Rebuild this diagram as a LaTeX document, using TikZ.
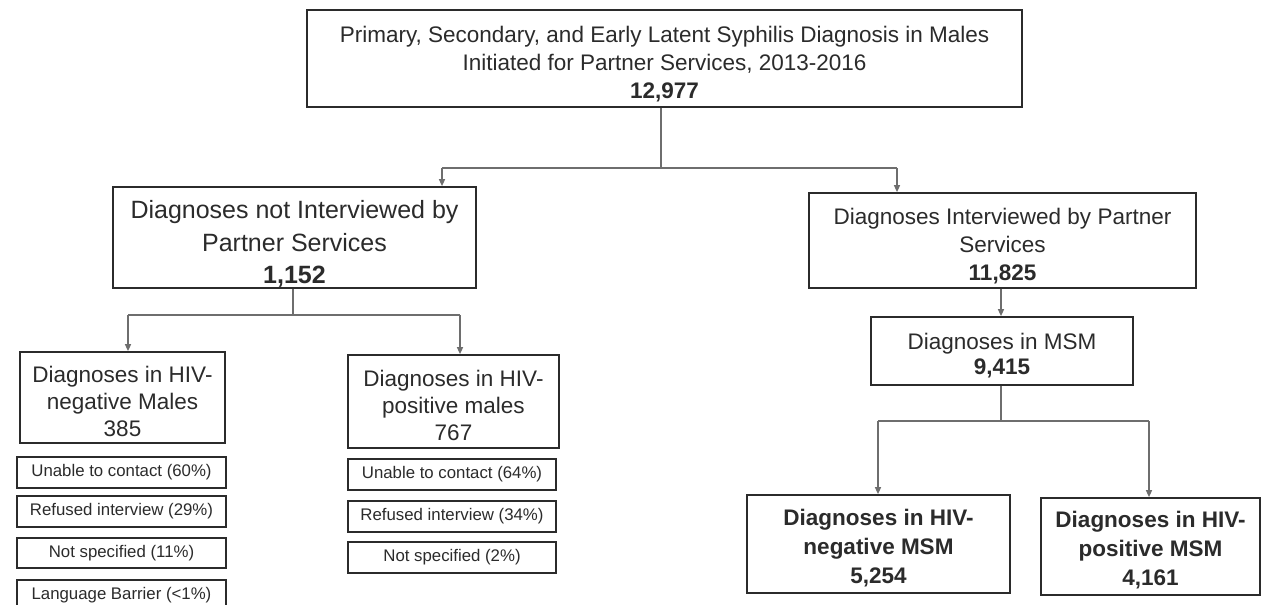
\documentclass[tikz,border=0pt]{standalone}
\usepackage{fontspec}
\setmainfont{Liberation Sans}
\usetikzlibrary{arrows.meta,calc}
\definecolor{ink}{HTML}{2B2B2B}
\definecolor{conncol}{HTML}{6E6E6E}
\newcommand{\dn}[1]{\rule{0pt}{#1}}
\begin{document}
\begin{tikzpicture}[x=1pt,y=-1pt,
  box/.style={draw=ink, line width=1.7pt, inner sep=0pt, align=center, text=ink,
    font=\fontsize{22.5}{28}\selectfont},
  bigbox/.style={box, font=\fontsize{25}{32.5}\selectfont},
  smallbox/.style={draw=ink, line width=1.5pt, inner sep=0pt, align=center, text=ink,
    font=\fontsize{16.8}{20}\selectfont},
  conn/.style={draw=conncol, line width=1.4pt},
  arr/.style={conn, -{Triangle[length=7pt,width=6pt]}}
]
\useasboundingbox (0,0) rectangle (1267,605);
\clip (0,0) rectangle (1267,605);
\fill[white] (0,0) rectangle (1267,605);

% main boxes
\node[box, minimum width=715pt, minimum height=97pt] (top) at (664.5,58.5)
  {\dn{27pt}Primary, Secondary, and Early Latent Syphilis Diagnosis in Males\\
   Initiated for Partner Services, 2013-2016\\ \textbf{12,977}};
\node[bigbox, minimum width=363pt, minimum height=101pt] (notint) at (294.5,237.5)
  {\dn{31pt}Diagnoses not Interviewed by\\ Partner Services\\ \textbf{1,152}};
\node[box, minimum width=387pt, minimum height=95pt] (intv) at (1002.5,240.5)
  {\dn{27pt}Diagnoses Interviewed by Partner\\ Services\\ \textbf{11,825}};
\node[box, minimum width=262pt, minimum height=68pt, font=\fontsize{22.5}{25}\selectfont] (msm) at (1002,351)
  {\dn{26pt}Diagnoses in MSM\\ \textbf{9,415}};
\node[box, minimum width=205pt, minimum height=91pt, font=\fontsize{22.5}{27}\selectfont] (negM) at (122.5,397.5)
  {\dn{24pt}Diagnoses in HIV-\\ negative Males\\ 385};
\node[box, minimum width=211pt, minimum height=93pt, font=\fontsize{22.5}{27}\selectfont] (posM) at (453.5,401.5)
  {\dn{24pt}Diagnoses in HIV-\\ positive males\\ 767};
\node[box, minimum width=263pt, minimum height=98pt, font=\bfseries\fontsize{22.5}{29}\selectfont] (negMSM) at (878.5,544)
  {\dn{24pt}Diagnoses in HIV-\\ negative MSM\\ 5,254};
\node[box, minimum width=219pt, minimum height=97pt, font=\bfseries\fontsize{22.5}{29}\selectfont] (posMSM) at (1150.5,546.5)
  {\dn{24pt}Diagnoses in HIV-\\ positive MSM\\ 4,161};

% reason boxes, left
\node[smallbox, minimum width=209pt, minimum height=31pt] (u1) at (121.5,472.5) {Unable to contact (60\%)};
\node[smallbox, minimum width=209pt, minimum height=31pt] (r1) at (121.5,511.5) {Refused interview (29\%)};
\node[smallbox, minimum width=209pt, minimum height=30pt] (n1) at (121.5,553) {Not specified (11\%)};
\node[smallbox, minimum width=209pt, minimum height=31pt] (l1) at (121.5,595.5) {Language Barrier (<1\%)};
% reason boxes, right
\node[smallbox, minimum width=208pt, minimum height=31pt] (u2) at (452,474.5) {Unable to contact (64\%)};
\node[smallbox, minimum width=208pt, minimum height=31pt] (r2) at (452,516.5) {Refused interview (34\%)};
\node[smallbox, minimum width=208pt, minimum height=31pt] (n2) at (452,557.5) {Not specified (2\%)};

% connector junctions
\coordinate (j1) at (661,168);
\coordinate (b1) at (442,168);
\coordinate (b2) at (897,168);
\coordinate (j2) at (293,315);
\coordinate (b3) at (128,315);
\coordinate (b4) at (460,315);
\coordinate (j3) at (1001,421);
\coordinate (b5) at (878,421);
\coordinate (b6) at (1149,421);

\draw[conn] (top.south -| j1) -- (j1);
\draw[conn] (b1) -- (b2);
\draw[arr] (b1) -- (notint.north -| b1);
\draw[arr] (b2) -- (intv.north -| b2);

\draw[arr] (intv.south -| j3) -- (msm.north -| j3);

\draw[conn] (notint.south -| j2) -- (j2);
\draw[conn] (b3) -- (b4);
\draw[arr] (b3) -- (negM.north -| b3);
\draw[arr] (b4) -- (posM.north -| b4);

\draw[conn] (msm.south -| j3) -- (j3);
\draw[conn] (b5) -- (b6);
\draw[arr] (b5) -- (negMSM.north -| b5);
\draw[arr] (b6) -- (posMSM.north -| b6);
\end{tikzpicture}
\end{document}
